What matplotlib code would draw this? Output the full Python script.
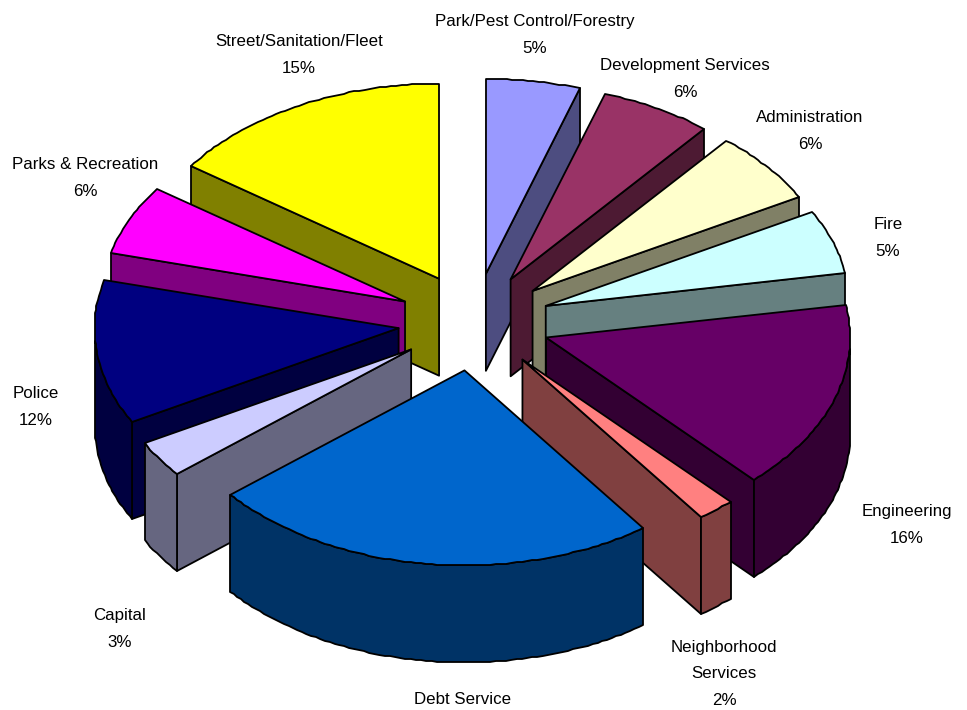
from math import sin, cos, radians
import matplotlib
matplotlib.use("Agg")
import matplotlib.pyplot as plt
from matplotlib.patches import Polygon
from matplotlib.colors import to_rgb

plt.rcParams['font.family'] = ['Liberation Sans', 'DejaVu Sans']

categories = ["Park/Pest Control/Forestry", "Development Services", "Administration", "Fire",
              "Engineering", "Neighborhood\nServices", "Debt Service", "Capital", "Police",
              "Parks & Recreation", "Street/Sanitation/Fleet"]
# shares, the labels show them rounded
percents = [5, 6, 6, 5.3, 15.7, 2, 24, 3, 12, 5.8, 15.2]
colors = ["#9999FF", "#993366", "#FFFFCC", "#CCFFFF", "#660066", "#FF8080",
          "#0066CC", "#CCCCFF", "#000080", "#FF00FF", "#FFFF00"]

# label centres in pixels
label_x = [535, 685, 810, 888, 907, 724, 463, 120, 36, 85, 299]
label_y = [35, 79, 131, 238, 525, 674, 700, 629, 407, 178, 55]

# pie geometry in pixels
cx, cy = 474, 322
rx, ry = 304, 195
depth = 97
explode = 0.25


def point(apex, t):
    # t is degrees clockwise from 12 o'clock, rounded so the rim steps like the original
    return (round(apex[0] + rx * sin(radians(t))), round(apex[1] - ry * cos(radians(t))))


def down(pts):
    return [(x, y + depth) for x, y in pts]


def halfColor(c):
    return tuple(v * 0.5 for v in to_rgb(c))


def addPoly(ax, pts, color):
    ax.add_patch(Polygon(pts, closed=True, facecolor=color, edgecolor="black", linewidth=1.3, joinstyle="round"))


def wall(ax, p1, p2, color):
    # only walls running leftwards face the viewer
    if p2[0] < p1[0]:
        addPoly(ax, [p1, p2, (p2[0], p2[1] + depth), (p1[0], p1[1] + depth)], color)


def drawSlice(ax, start, end, color):
    mid = radians((start + end) / 2)
    apex = (cx + explode * rx * sin(mid), cy - explode * ry * cos(mid))
    steps = max(int(end - start), 1)
    rim = [point(apex, start + (end - start) * i / steps) for i in range(steps + 1)]
    side = halfColor(color)

    wall(ax, apex, rim[0], side)
    wall(ax, rim[-1], apex, side)
    front = [p for p, q in zip(rim, rim[1:]) if q[0] < p[0]]
    if front:
        last = rim[rim.index(front[-1]) + 1]
        front = front + [last]
        addPoly(ax, front + down(front)[::-1], side)
    addPoly(ax, [apex] + rim, color)


fig = plt.figure(figsize=(9.67, 7.10), dpi=100)
ax = fig.add_axes([0, 0, 1, 1])
ax.set_xlim(0, 967)
ax.set_ylim(710, 0)
ax.axis("off")

slices = []
total = 0
for p, c in zip(percents, colors):
    start = total * 3.6
    total += p
    slices.append((start, total * 3.6, c))

# back slices first so the nearer ones cover them
slices.sort(key=lambda s: cos(radians((s[0] + s[1]) / 2)), reverse=True)
for start, end, c in slices:
    drawSlice(ax, start, end, c)

for name, p, x, y in zip(categories, percents, label_x, label_y):
    # the last line of the bottom label falls outside the picture
    text = name if name == "Debt Service" else name + "\n" + str(round(p)) + "%"
    ax.text(x, y, text, ha="center", va="center", fontsize=12.2, linespacing=1.92, color="black")

fig.savefig("out.png", dpi=100)
